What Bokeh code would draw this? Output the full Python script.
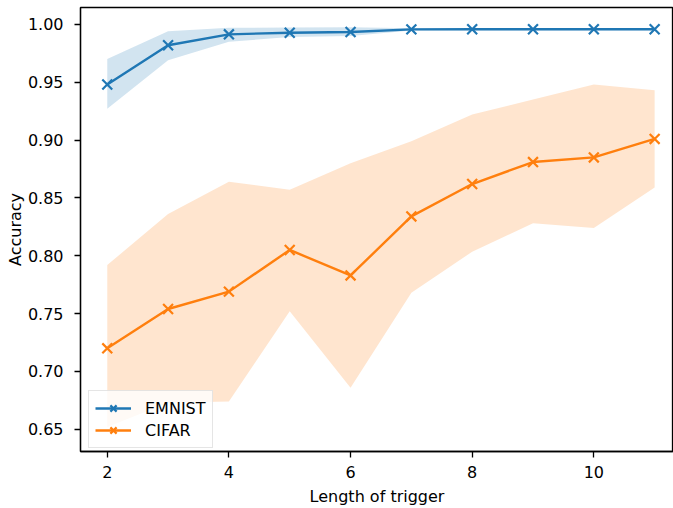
from bokeh.plotting import figure
from bokeh.models import Range1d, FixedTicker, Legend, LegendItem, ColumnDataSource, CustomJSTickFormatter
from bokeh.embed import file_html
from bokeh.resources import INLINE

trigger_len = [2, 3, 4, 5, 6, 7, 8, 9, 10, 11]

emnist_mean = [0.948, 0.982, 0.9914, 0.9928, 0.9934, 0.9957, 0.9958, 0.9958, 0.9958, 0.9958]
emnist_upper = [0.970, 0.994, 0.997, 0.9974, 0.9975, 0.9966, 0.9966, 0.9966, 0.9966, 0.9966]
emnist_lower = [0.927, 0.969, 0.985, 0.989, 0.990, 0.9948, 0.9950, 0.9950, 0.9950, 0.9950]

cifar_mean = [0.720, 0.754, 0.769, 0.805, 0.783, 0.834, 0.862, 0.881, 0.885, 0.901]
cifar_upper = [0.792, 0.836, 0.864, 0.857, 0.880, 0.899, 0.922, 0.935, 0.948, 0.943]
cifar_lower = [0.652, 0.673, 0.674, 0.752, 0.686, 0.768, 0.8035, 0.828, 0.824, 0.859]

x_ticks = [2, 4, 6, 8, 10]
y_ticks = [0.65, 0.70, 0.75, 0.80, 0.85, 0.90, 0.95, 1.00]

BLUE = "#1f77b4"
ORANGE = "#ff7f0e"
FONT = "DejaVu Sans"
FS = "16px"

src = ColumnDataSource(dict(x=trigger_len, em=emnist_mean, eu=emnist_upper, el=emnist_lower,
                            cm=cifar_mean, cu=cifar_upper, cl=cifar_lower))

p = figure(width=673, height=508, output_backend="svg", toolbar_location=None,
           x_range=Range1d(1.56, 11.31), y_range=Range1d(0.6308, 1.0146),
           min_border_left=80, min_border_right=0, min_border_top=7, min_border_bottom=54)

p.outline_line_color = "black"
p.outline_line_width = 1.3
p.xgrid.visible = False
p.ygrid.visible = False
p.background_fill_color = "white"
p.border_fill_color = "white"

p.varea(x="x", y1="el", y2="eu", source=src, fill_color=BLUE, fill_alpha=0.2)
p.varea(x="x", y1="cl", y2="cu", source=src, fill_color=ORANGE, fill_alpha=0.2)

l1 = p.line(x="x", y="em", source=src, line_color=BLUE, line_width=2.4)
s1 = p.scatter(x="x", y="em", source=src, marker="x", size=14, line_color=BLUE, line_width=2.2)
l2 = p.line(x="x", y="cm", source=src, line_color=ORANGE, line_width=2.4)
s2 = p.scatter(x="x", y="cm", source=src, marker="x", size=14, line_color=ORANGE, line_width=2.2)

for ax in (p.xaxis[0], p.yaxis[0]):
    ax.major_label_text_font = FONT
    ax.major_label_text_font_size = FS
    ax.major_label_text_color = "black"
    ax.axis_label_text_font = FONT
    ax.axis_label_text_font_size = FS
    ax.axis_label_text_font_style = "normal"
    ax.axis_label_text_color = "black"
    ax.axis_line_color = "black"
    ax.axis_line_width = 1.3
    ax.major_tick_line_color = "black"
    ax.major_tick_line_width = 1.3
    ax.major_tick_out = 6
    ax.major_tick_in = 0
    ax.minor_tick_out = 0
    ax.minor_tick_in = 0

p.xaxis.ticker = FixedTicker(ticks=x_ticks)
p.yaxis.ticker = FixedTicker(ticks=y_ticks)
p.yaxis.formatter = CustomJSTickFormatter(code="return tick.toFixed(2);")
p.xaxis.axis_label = "Length of trigger"
p.yaxis.axis_label = "Accuracy"
p.xaxis.major_label_standoff = 8
p.yaxis.major_label_standoff = 11
p.xaxis.axis_label_standoff = 6
p.yaxis.axis_label_standoff = 0

legend = Legend(items=[LegendItem(label="EMNIST", renderers=[l1, s1]),
                       LegendItem(label="CIFAR", renderers=[l2, s2])],
                location=(8, 3))
legend.label_text_font = FONT
legend.label_text_font_size = FS
legend.label_text_color = "black"
legend.border_line_color = "#cccccc"
legend.border_line_width = 1
legend.background_fill_alpha = 0.8
legend.glyph_width = 36
legend.glyph_height = 22
legend.label_height = 22
legend.label_standoff = 14
legend.spacing = 0
legend.padding = 6
legend.margin = 0
p.add_layout(legend, "center")

open("out.html", "w").write(file_html(p, INLINE))
